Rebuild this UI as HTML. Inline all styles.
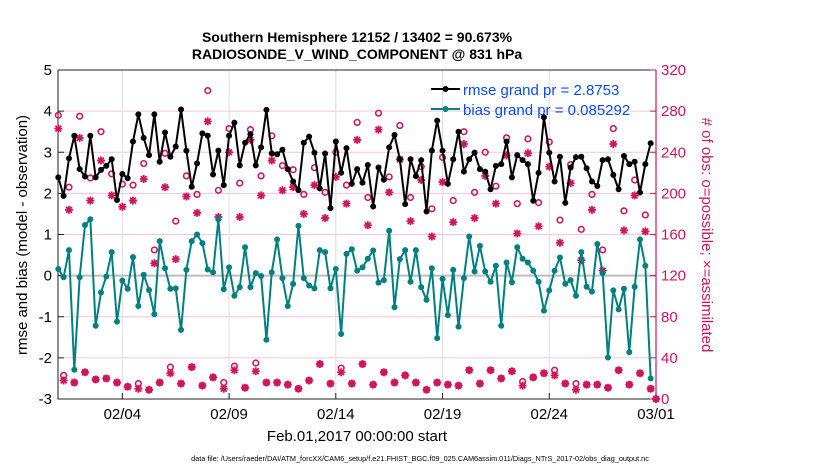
<!DOCTYPE html>
<html><head><meta charset="utf-8"><style>
body{margin:0;background:#fff;}
svg text{font-family:"Liberation Sans",sans-serif;}
</style></head><body>
<svg id="chart" width="830" height="470" xmlns="http://www.w3.org/2000/svg">
<rect width="830" height="470" fill="#fff"/>
<text x="357" y="42" text-anchor="middle" font-size="14" font-weight="bold">Southern Hemisphere 12152 / 13402 = 90.673%</text>
<text x="357" y="59" text-anchor="middle" font-size="14" font-weight="bold">RADIOSONDE_V_WIND_COMPONENT @ 831 hPa</text>
<g id="grid"></g>
<g id="axes"></g>
<g id="obs"></g>
<g id="series"></g>
<g id="legend">
<line x1="431" y1="89" x2="460" y2="89" stroke="#000" stroke-width="2"/>
<circle cx="445.5" cy="89" r="3" fill="#000"/>
<text x="463" y="95" font-size="15" fill="#0a4cf5">rmse grand pr = 2.8753</text>
<line x1="431" y1="109" x2="460" y2="109" stroke="#008080" stroke-width="2"/>
<circle cx="445.5" cy="109" r="3" fill="#008080"/>
<text x="463" y="115" font-size="15" fill="#0a4cf5">bias grand pr = 0.085292</text>
</g>
<text transform="translate(27,235) rotate(-90)" text-anchor="middle" font-size="15">rmse and bias (model - observation)</text>
<text transform="translate(702,235) rotate(90)" text-anchor="middle" font-size="15" fill="#d4145a"># of obs: o=possible; ×=assimilated</text>
<text x="357" y="441" text-anchor="middle" font-size="15">Feb.01,2017 00:00:00 start</text>
<text x="420" y="461" text-anchor="middle" font-size="7.3">data file: /Users/raeder/DAI/ATM_forcXX/CAM6_setup/f.e21.FHIST_BGC.f09_025.CAM6assim.011/Diags_NTrS_2017-02/obs_diag_output.nc</text>
</svg>
<script>
const leftTicks=[-3,-2,-1,0,1,2,3,4,5];
const rightTicks=[0,40,80,120,160,200,240,280,320];
const dateTickDays=[3,8,13,18,23,28];
const dateTickLabels=["02/04","02/09","02/14","02/19","02/24","03/01"];
const rmse=[2.39,1.94,2.85,3.40,2.59,2.41,3.40,2.39,2.57,2.67,2.83,1.84,2.47,2.37,3.26,3.92,3.35,2.93,3.92,2.77,3.48,2.89,3.14,4.04,3.04,2.16,2.73,3.46,3.40,2.46,3.04,2.20,3.40,3.72,2.68,3.23,3.44,2.68,3.12,4.03,2.97,2.95,3.06,2.59,2.29,2.08,3.23,3.38,2.99,2.12,2.97,1.64,3.26,2.50,3.10,2.23,2.59,2.26,2.69,1.68,2.63,2.33,3.12,3.42,2.83,1.74,2.83,2.42,2.81,1.56,3.04,3.77,3.04,2.23,2.83,3.50,2.53,2.83,2.99,2.59,2.53,2.10,2.67,2.71,3.26,2.39,2.93,2.81,2.71,1.82,2.50,3.85,2.99,2.29,2.89,1.77,2.63,2.88,2.89,2.61,2.29,2.18,2.81,2.83,2.45,2.10,2.91,2.71,2.77,2.02,2.71,3.22];
const bias=[0.16,-0.04,0.62,-2.29,-0.04,1.23,1.37,-1.22,-0.41,-0.02,0.57,-1.12,-0.12,-0.32,0.45,-0.74,0.02,-0.35,-0.94,0.84,0.18,-0.32,-0.31,-1.32,0.14,0.84,1.00,0.79,0.15,0.08,1.37,-0.33,0.20,-0.49,-0.28,0.69,-0.28,0.06,-0.01,-1.56,0.08,0.88,-0.06,-0.74,-0.20,1.21,-0.06,-0.24,-0.31,0.62,0.57,-0.31,0.16,-1.42,0.53,0.64,0.12,0.20,0.41,0.61,-0.17,-0.11,1.09,-0.77,0.40,0.62,-0.15,0.62,-0.28,-0.59,0.18,-1.52,-0.08,-0.96,0.14,-1.24,-0.06,0.95,0.10,0.72,0.10,-0.15,0.24,-1.22,0.32,-0.16,0.69,0.41,0.32,0.12,-0.15,-0.85,-0.36,0.12,0.44,-0.20,-0.11,-0.49,0.57,-0.27,-0.39,0.77,0.06,-1.99,-0.36,-0.82,-0.32,-1.86,-0.27,0.88,0.24,-2.50];
const possible=[276,23,206,16,275,26,215,19,260,20,219,16,209,12,208,15,229,9,145,16,239,31,173,15,217,31,199,13,300,21,203,16,263,32,210,11,262,35,217,16,256,16,227,14,223,10,199,18,225,34,201,15,240,30,208,15,269,34,196,14,278,26,216,16,266,23,196,16,226,9,185,16,235,14,193,13,260,28,201,15,240,28,207,20,254,27,190,17,253,21,191,25,250,28,174,15,228,15,165,14,199,14,145,11,263,28,183,14,213,25,179,10,0];
const assimilated=[263,18,184,16,254,26,193,19,232,20,198,16,187,12,193,10,214,9,132,16,206,25,136,15,197,31,181,13,270,21,177,10,240,28,177,11,252,27,198,16,232,16,203,14,206,10,180,18,208,34,176,15,216,26,190,15,252,34,169,14,262,26,201,16,233,23,173,16,213,9,158,16,211,14,172,13,248,28,176,15,217,28,190,20,237,27,161,13,239,21,168,25,226,23,152,15,210,9,135,14,184,14,125,11,248,28,164,14,198,25,163,10,0];

const X0=58.3,X1=656,Y0=70,Y1=399,NS="http://www.w3.org/2000/svg";
const xs=d=>X0+(X1-X0)*d/28;
const yL=v=>Y1-(v+3)*(Y1-Y0)/8;
const yR=c=>Y1-c*(Y1-Y0)/320;
const dayOf=i=>i*0.25;
function mk(tag,attrs,parent){const e=document.createElementNS(NS,tag);for(const k in attrs)e.setAttribute(k,attrs[k]);parent.appendChild(e);return e;}
const grid=document.getElementById('grid'),axes=document.getElementById('axes'),obs=document.getElementById('obs'),ser=document.getElementById('series');
rightTicks.forEach(t=>{if(t===0||t===320||t===120)return;const l=mk('line',{x1:58,x2:656,y1:yR(t),y2:yR(t),stroke:'#f2c6d6','stroke-width':1},grid);

});
dateTickDays.forEach(d=>{if(d===28)return;const l=mk('line',{x1:xs(d),x2:xs(d),y1:Y0,y2:Y1,stroke:'#dcdcdc','stroke-width':1},grid);

});
const z=mk('line',{x1:58,x2:656,y1:yL(0),y2:yL(0),stroke:'#bdbdbd','stroke-width':2},grid);


const fr=mk('path',{d:`M58 ${Y0} H656 M58 ${Y0} V${Y1} H656`,stroke:'#222',fill:'none','stroke-width':1},axes);


const ra=mk('line',{x1:656,x2:656,y1:Y0,y2:Y1,stroke:'#d4145a','stroke-width':1.2},axes);


leftTicks.forEach(t=>{mk('line',{x1:58,x2:64,y1:yL(t),y2:yL(t),stroke:'#222'},axes);
const tx=mk('text',{x:52,y:yL(t)+5,'text-anchor':'end','font-size':15},axes);tx.textContent=t;

});
rightTicks.forEach(t=>{mk('line',{x1:650,x2:656,y1:yR(t),y2:yR(t),stroke:'#d4145a'},axes);
const tx=mk('text',{x:661,y:yR(t)+5,'font-size':15,fill:'#d4145a'},axes);tx.textContent=t;

});
dateTickDays.forEach((d,i)=>{mk('line',{x1:xs(d),x2:xs(d),y1:Y1,y2:Y1-6,stroke:'#222'},axes);
const tx=mk('text',{x:xs(d),y:419,'text-anchor':'middle','font-size':15},axes);tx.textContent=dateTickLabels[i];

});
const MC='#d4145a';
possible.forEach((c,i)=>{const e=mk('circle',{cx:xs(dayOf(i)),cy:yR(c),r:2.8,fill:'none',stroke:MC,'stroke-width':1.6},obs);

});
assimilated.forEach((c,i)=>{const x=xs(dayOf(i)),y=yR(c),s=4,d=2.9;
const e=mk('path',{d:`M${x-s} ${y}H${x+s}M${x} ${y-s}V${y+s}M${x-d} ${y-d}L${x+d} ${y+d}M${x-d} ${y+d}L${x+d} ${y-d}`,stroke:MC,'stroke-width':1.8,fill:'none'},obs);

});
function series(vals,col,name){
const p=mk('polyline',{points:vals.map((v,i)=>xs(dayOf(i))+','+yL(v)).join(' '),fill:'none',stroke:col,'stroke-width':2,'stroke-linejoin':'round'},ser);


vals.forEach((v,i)=>{const c=mk('circle',{cx:xs(dayOf(i)),cy:yL(v),r:3,fill:col},ser);

});}
series(bias,'#008080','bias');
series(rmse,'#000000','rmse');
document.getElementById('chart').appendChild(document.getElementById('legend'));
</script>
</body></html>
